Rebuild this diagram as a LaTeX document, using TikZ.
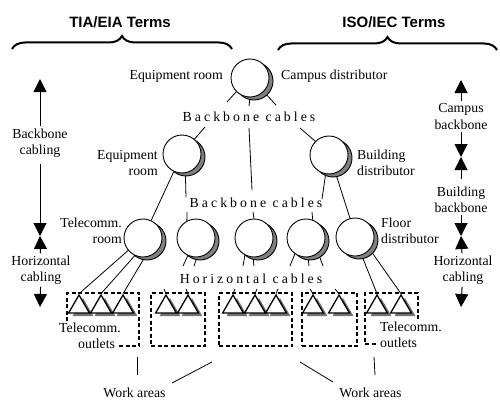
\documentclass[tikz,border=0pt]{standalone}
\usepackage{fontspec}
\setmainfont{Liberation Serif}
\setsansfont{Liberation Sans}
\newfontfamily\spacedfont{Liberation Serif}[LetterSpace=22]
\usetikzlibrary{shapes.geometric,shadows,arrows.meta,decorations.pathreplacing,backgrounds}

\tikzset{
  distrib/.style={circle,draw=black,line width=0.9pt,fill=white,minimum size=38pt,inner sep=0pt,
    drop shadow={shadow xshift=4pt,shadow yshift=-3pt,fill=gray,draw=black,opacity=1}},
  outlet/.style={regular polygon,regular polygon sides=3,draw=black,line width=1.3pt,fill=white,
    minimum size=24pt,inner sep=0pt,
    drop shadow={shadow xshift=4pt,shadow yshift=-3pt,fill=black!55,draw=none,opacity=1}},
  workarea/.style={rectangle,draw=black,line width=1.1pt,dash pattern=on 4pt off 2.5pt,inner sep=0pt},
  txt/.style={font=\fontsize{13.8}{16.5}\selectfont,align=center,inner sep=2pt},
  spaced/.style={font=\fontsize{13.8}{16.5}\spacedfont,inner sep=1pt},
  heading/.style={font=\fontsize{15}{18}\selectfont\sffamily\bfseries},
  termarrow/.style={-{Triangle[width=13pt,length=13pt]},line width=1pt},
  cable/.style={line width=0.8pt},
  termbrace/.style={decorate,decoration={brace,amplitude=13pt},line width=2pt}
}

\begin{document}
\begin{tikzpicture}[x=1pt,y=-1pt]
\useasboundingbox (0,0) rectangle (500,404);

% headings and braces
\node[heading] (tia) at (120,22) {TIA/EIA Terms};
\node[heading] (iso) at (394,22) {ISO/IEC Terms};
\coordinate (tiaL) at (12,49);
\coordinate (tiaR) at (232,49);
\coordinate (isoL) at (278,50);
\coordinate (isoR) at (497,50);
\draw[termbrace] (tiaL) -- (tiaR);
\draw[termbrace] (isoL) -- (isoR);

% distributors
\node[distrib] (cd) at (250,78) {};
\node[txt,anchor=east] (cdl) at (225,76) {Equipment room};
\node[txt,anchor=west] (cdr) at (279,76) {Campus distributor};
\node[spaced] (bb1) at (249,117) {Backbone cables};

\node[distrib] (er) at (182,154) {};
\node[txt,anchor=east,align=right] (erl) at (160,163) {Equipment\\room};
\node[distrib] (bd) at (329,155) {};
\node[txt,anchor=west,align=left] (bdl) at (355,163) {Building\\distributor};
\node[spaced] (bb2) at (256,203) {Backbone cables};

\node[distrib] (trm) at (143,238) {};
\node[txt,anchor=east,align=right] (trml) at (124,231) {Telecomm.\\room};
\node[distrib] (fl1) at (196,238) {};
\node[distrib] (fl2) at (254,238) {};
\node[distrib] (fl3) at (306,238) {};
\node[distrib] (fdr) at (355,237) {};
\node[txt,anchor=west,align=left] (fdrl) at (379,231) {Floor\\distributor};
\node[spaced] (hc) at (251,279) {Horizontal cables};

% work areas
\node[workarea,minimum width=72pt,minimum height=53pt] (box1) at (103,319.5) {};
\node[workarea,minimum width=54pt,minimum height=53pt] (box2) at (178,319.5) {};
\node[workarea,minimum width=73pt,minimum height=53pt] (box3) at (255.5,319.5) {};
\node[workarea,minimum width=55pt,minimum height=53pt] (box4) at (329.5,319.5) {};
\node[workarea,minimum width=53pt,minimum height=51pt] (box5) at (391.5,318.5) {};

% outlets
\node[outlet] (o11) at (79,307) {};
\node[outlet] (o12) at (101,307) {};
\node[outlet] (o13) at (123,307) {};
\node[outlet] (o21) at (166,307) {};
\node[outlet] (o22) at (188,307) {};
\node[outlet] (o31) at (233,307) {};
\node[outlet] (o32) at (255,307) {};
\node[outlet] (o33) at (276,307) {};
\node[outlet] (o41) at (313,307) {};
\node[outlet] (o42) at (339,307) {};
\node[outlet] (o51) at (377,307) {};
\node[outlet] (o52) at (401,307) {};

\node[txt,fill=white,align=left,anchor=west] (tol) at (57,336)
  {\makebox[56pt][l]{Telecomm.}\\\hspace*{19pt}outlets};
\node[txt,fill=white,align=left,anchor=west] (tor) at (378,335) {Telecomm.\\outlets};

\node[txt] (wa1) at (134.5,393) {Work areas};
\node[txt] (wa2) at (370.5,393) {Work areas};
\coordinate (wa1a) at (137,357);
\coordinate (wa1b) at (137,375);
\coordinate (wa1c) at (212,362);
\coordinate (wa1d) at (172,383);
\coordinate (wa2a) at (300,362);
\coordinate (wa2b) at (333,382);
\coordinate (wa2c) at (374,357);
\coordinate (wa2d) at (375,375);
\draw[cable] (wa1a) -- (wa1b);
\draw[cable] (wa1c) -- (wa1d);
\draw[cable] (wa2a) -- (wa2b);
\draw[cable] (wa2c) -- (wa2d);

% terms columns
\node[txt] (bbcab) at (40,143) {Backbone\\cabling};
\node[txt] (hzl) at (41,270) {Horizontal\\cabling};
\coordinate (lt1) at (40,79);
\coordinate (lt2) at (40,236);
\coordinate (lt3) at (40,307);
\draw[termarrow] (bbcab) -- (lt1);
\draw[termarrow,shorten <=4pt] (bbcab) -- (lt2);
\draw[termarrow] (hzl) -- (lt2);
\draw[termarrow] (hzl) -- (lt3);

\node[txt] (cbb) at (461,116.5) {Campus\\backbone};
\node[txt] (bldb) at (461,200) {Building\\backbone};
\node[txt] (hzr) at (463,270) {Horizontal\\cabling};
\coordinate (rt1) at (461,80);
\coordinate (rt2) at (461,157);
\coordinate (rt3) at (461,236);
\coordinate (rt4) at (461,307);
\draw[termarrow] (cbb) -- (rt1);
\draw[termarrow] (cbb) -- (rt2);
\draw[termarrow,shorten <=6pt] (bldb) -- (rt2);
\draw[termarrow] (bldb) -- (rt3);
\draw[termarrow] (hzr) -- (rt3);
\draw[termarrow] (hzr) -- (rt4);

% cables
\coordinate (s1) at (227,102);
\coordinate (s2) at (249,106);
\coordinate (s3) at (276,105);
\coordinate (s4) at (205,127);
\coordinate (s5) at (249,128);
\coordinate (s6) at (252,190);
\coordinate (s7) at (300,128);
\coordinate (s8) at (186,197);
\coordinate (s9) at (322,199);
\coordinate (s10) at (187,212);
\coordinate (s11) at (253,212);
\coordinate (s12) at (312,212);
\coordinate (h1) at (183,266);
\coordinate (h2) at (194,266);
\coordinate (h3) at (243,266);
\coordinate (h4) at (254,266);
\coordinate (h5) at (290,266);
\coordinate (h6) at (309,266);
\coordinate (h7) at (323,266);
\coordinate (k1) at (164,289);
\coordinate (k2) at (186,289);
\coordinate (k3) at (235,289);
\coordinate (k4) at (257,289);
\coordinate (k5) at (278,289);
\coordinate (k6) at (310,289);
\coordinate (k7) at (335,289);
\begin{scope}[on background layer]
\draw[cable] (cd.225) -- (s1);
\draw[cable] (cd.270) -- (s2);
\draw[cable] (cd.-45) -- (s3);
\draw[cable] (s4) -- (er.50);
\draw[cable] (s5) -- (s6);
\draw[cable] (s7) -- (bd.135);
\draw[cable] (er.245) -- (trm.65);
\draw[cable] (er.280) -- (s8);
\draw[cable] (bd.260) -- (s9);
\draw[cable] (bd.290) -- (fdr.105);
\draw[cable] (s10) -- (fl1.118);
\draw[cable] (s11) -- (fl2.90);
\draw[cable] (s12) -- (fl3.70);
\draw[cable] (fl1.245) -- (h1);
\draw[cable] (fl1.273) -- (h2);
\draw[cable] (fl2.242) -- (h3);
\draw[cable] (fl2.267) -- (h4);
\draw[cable] (fl3.235) -- (h5);
\draw[cable] (fl3.276) -- (h6);
\draw[cable] (fl3.309) -- (h7);
\draw[cable] (trm.220) -- (o11.corner 1);
\draw[cable] (trm.245) -- (o12.corner 1);
\draw[cable] (trm.275) -- (o13.corner 1);
\draw[cable] (fdr.-70) -- (o51.corner 1);
\draw[cable] (fdr.-40) -- (o52.corner 1);
\draw[cable] (k1) -- (o21.corner 1);
\draw[cable] (k2) -- (o22.corner 1);
\draw[cable] (k3) -- (o31.corner 1);
\draw[cable] (k4) -- (o32.corner 1);
\draw[cable] (k5) -- (o33.corner 1);
\draw[cable] (k6) -- (o41.corner 1);
\draw[cable] (k7) -- (o42.corner 1);
\end{scope}
\end{tikzpicture}
\end{document}
